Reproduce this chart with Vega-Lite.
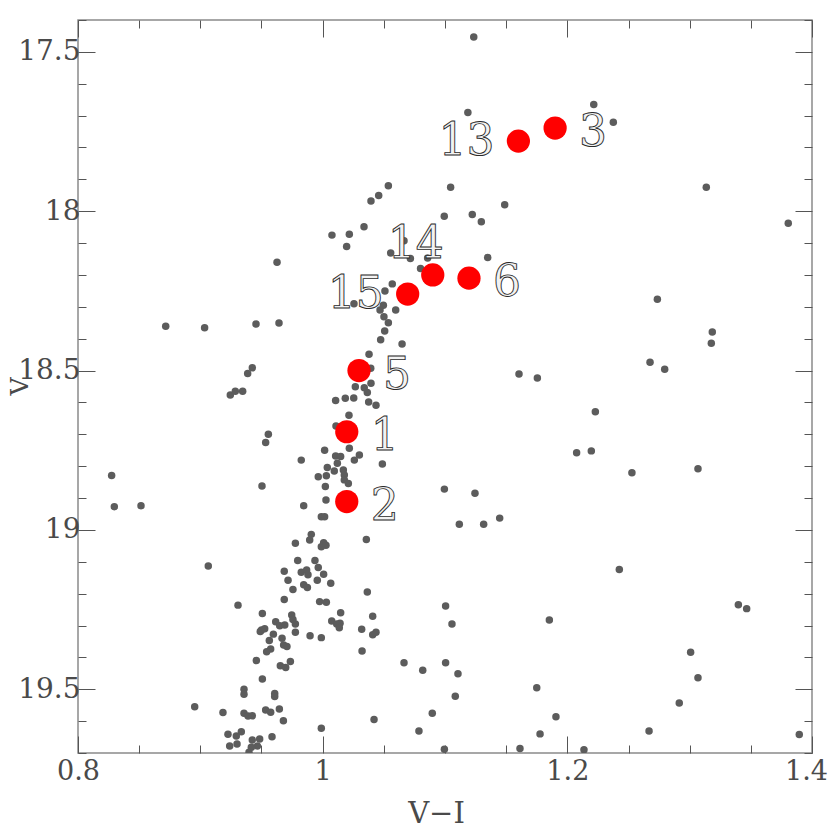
{
  "$schema": "https://vega.github.io/schema/vega-lite/v6.json",
  "width": 734,
  "height": 733,
  "autosize": {"type": "none"},
  "padding": {"left": 78, "top": 20, "right": 18, "bottom": 77},
  "background": "white",
  "config": {"view": {"stroke": "#8a8a8a", "strokeWidth": 1.5}},
  "datasets": {
    "stars": [
      {"color": 1.1235, "mag": 17.453}, {"color": 1.1187, "mag": 17.69}, {"color": 1.0537, "mag": 17.92}, {"color": 1.0458, "mag": 17.951},
      {"color": 1.0395, "mag": 17.968}, {"color": 1.1046, "mag": 17.925}, {"color": 1.1488, "mag": 17.98}, {"color": 1.0994, "mag": 18.016},
      {"color": 1.1223, "mag": 18.01}, {"color": 1.1297, "mag": 18.033}, {"color": 1.0338, "mag": 18.049}, {"color": 1.0076, "mag": 18.075},
      {"color": 1.0218, "mag": 18.072}, {"color": 1.0196, "mag": 18.111}, {"color": 1.0665, "mag": 18.093}, {"color": 1.0556, "mag": 18.131},
      {"color": 1.0717, "mag": 18.148}, {"color": 1.0858, "mag": 18.147}, {"color": 1.1349, "mag": 18.145}, {"color": 1.08, "mag": 18.18},
      {"color": 1.2216, "mag": 17.665}, {"color": 1.2376, "mag": 17.721}, {"color": 1.3136, "mag": 17.925}, {"color": 1.3806, "mag": 18.038},
      {"color": 0.9627, "mag": 18.16}, {"color": 0.8717, "mag": 18.361}, {"color": 0.9035, "mag": 18.366}, {"color": 0.9455, "mag": 18.354},
      {"color": 0.9643, "mag": 18.351}, {"color": 0.9425, "mag": 18.491}, {"color": 0.9387, "mag": 18.509}, {"color": 0.9245, "mag": 18.577},
      {"color": 0.9286, "mag": 18.565}, {"color": 0.9346, "mag": 18.565}, {"color": 0.9556, "mag": 18.7}, {"color": 0.9534, "mag": 18.726},
      {"color": 0.9825, "mag": 18.781}, {"color": 1.0016, "mag": 18.75}, {"color": 0.8275, "mag": 18.829}, {"color": 0.9504, "mag": 18.862},
      {"color": 0.9964, "mag": 18.833}, {"color": 1.0038, "mag": 18.804}, {"color": 1.003, "mag": 18.83}, {"color": 1.0022, "mag": 18.864},
      {"color": 1.0027, "mag": 18.906}, {"color": 0.8297, "mag": 18.927}, {"color": 0.8515, "mag": 18.924}, {"color": 0.9845, "mag": 18.924},
      {"color": 1.0569, "mag": 18.228}, {"color": 1.0509, "mag": 18.25}, {"color": 1.0256, "mag": 18.29}, {"color": 1.0496, "mag": 18.295},
      {"color": 1.0469, "mag": 18.31}, {"color": 1.0597, "mag": 18.31}, {"color": 1.0501, "mag": 18.331}, {"color": 1.0537, "mag": 18.35},
      {"color": 1.0507, "mag": 18.376}, {"color": 1.0474, "mag": 18.403}, {"color": 1.0649, "mag": 18.417}, {"color": 1.0379, "mag": 18.449},
      {"color": 1.0393, "mag": 18.493}, {"color": 1.0395, "mag": 18.54}, {"color": 1.0267, "mag": 18.551}, {"color": 1.034, "mag": 18.554},
      {"color": 1.0365, "mag": 18.569}, {"color": 1.0106, "mag": 18.594}, {"color": 1.0185, "mag": 18.587}, {"color": 1.0254, "mag": 18.586},
      {"color": 1.0376, "mag": 18.599}, {"color": 1.0436, "mag": 18.609}, {"color": 1.0215, "mag": 18.64}, {"color": 1.0109, "mag": 18.674},
      {"color": 1.0218, "mag": 18.744}, {"color": 1.03, "mag": 18.765}, {"color": 1.0106, "mag": 18.768}, {"color": 1.0147, "mag": 18.77},
      {"color": 1.0259, "mag": 18.781}, {"color": 1.012, "mag": 18.791}, {"color": 1.0488, "mag": 18.793}, {"color": 1.0095, "mag": 18.815},
      {"color": 1.0169, "mag": 18.812}, {"color": 1.0177, "mag": 18.828}, {"color": 1.0177, "mag": 18.843}, {"color": 1.021, "mag": 18.854},
      {"color": 1.0995, "mag": 18.872}, {"color": 1.1245, "mag": 18.885}, {"color": 1.1605, "mag": 18.511}, {"color": 1.1755, "mag": 18.523},
      {"color": 1.2736, "mag": 18.276}, {"color": 1.3185, "mag": 18.379}, {"color": 1.3177, "mag": 18.414}, {"color": 1.2676, "mag": 18.474},
      {"color": 1.2796, "mag": 18.496}, {"color": 1.2229, "mag": 18.629}, {"color": 1.2076, "mag": 18.758}, {"color": 1.2196, "mag": 18.752},
      {"color": 1.2528, "mag": 18.821}, {"color": 1.3068, "mag": 18.808},
      {"color": 0.9989, "mag": 18.959}, {"color": 1.0016, "mag": 18.959}, {"color": 0.9907, "mag": 19.014}, {"color": 0.9894, "mag": 19.032},
      {"color": 1.0008, "mag": 19.04}, {"color": 0.9989, "mag": 19.053}, {"color": 1.0027, "mag": 19.048}, {"color": 0.9777, "mag": 19.042},
      {"color": 1.0357, "mag": 19.03}, {"color": 0.9796, "mag": 19.096}, {"color": 0.9937, "mag": 19.096}, {"color": 0.9964, "mag": 19.118},
      {"color": 1.0008, "mag": 19.139}, {"color": 0.9825, "mag": 19.133}, {"color": 0.9869, "mag": 19.126}, {"color": 0.988, "mag": 19.141},
      {"color": 0.9686, "mag": 19.13}, {"color": 0.9717, "mag": 19.158}, {"color": 0.9845, "mag": 19.172}, {"color": 0.9875, "mag": 19.181},
      {"color": 0.9956, "mag": 19.158}, {"color": 0.9757, "mag": 19.187}, {"color": 1.0066, "mag": 19.167}, {"color": 1.0365, "mag": 19.195},
      {"color": 0.9686, "mag": 19.218}, {"color": 0.9975, "mag": 19.225}, {"color": 1.003, "mag": 19.227}, {"color": 0.9308, "mag": 19.236},
      {"color": 0.9065, "mag": 19.113}, {"color": 0.9507, "mag": 19.262}, {"color": 0.9616, "mag": 19.288}, {"color": 0.9747, "mag": 19.267},
      {"color": 0.9757, "mag": 19.281}, {"color": 0.9777, "mag": 19.295}, {"color": 0.9649, "mag": 19.301}, {"color": 0.969, "mag": 19.298},
      {"color": 0.95, "mag": 19.314}, {"color": 0.949, "mag": 19.319}, {"color": 0.9526, "mag": 19.31}, {"color": 0.9597, "mag": 19.327},
      {"color": 0.9668, "mag": 19.34}, {"color": 0.9564, "mag": 19.347}, {"color": 0.9777, "mag": 19.321}, {"color": 0.9897, "mag": 19.332},
      {"color": 0.9989, "mag": 19.338}, {"color": 1.0147, "mag": 19.26}, {"color": 1.0409, "mag": 19.271}, {"color": 1.0074, "mag": 19.286},
      {"color": 1.0142, "mag": 19.293}, {"color": 1.0115, "mag": 19.295}, {"color": 1.0136, "mag": 19.307}, {"color": 1.0319, "mag": 19.312},
      {"color": 1.0409, "mag": 19.329}, {"color": 1.0436, "mag": 19.321}, {"color": 1.1005, "mag": 19.239}, {"color": 1.1057, "mag": 19.295},
      {"color": 0.9681, "mag": 19.361}, {"color": 0.9708, "mag": 19.366}, {"color": 0.9575, "mag": 19.374}, {"color": 0.9542, "mag": 19.382},
      {"color": 0.9458, "mag": 19.41}, {"color": 0.9654, "mag": 19.426}, {"color": 0.9698, "mag": 19.432}, {"color": 0.9736, "mag": 19.413},
      {"color": 1.0322, "mag": 19.38}, {"color": 0.9507, "mag": 19.468}, {"color": 0.8954, "mag": 19.555}, {"color": 0.9185, "mag": 19.573},
      {"color": 0.9357, "mag": 19.5}, {"color": 0.9357, "mag": 19.516}, {"color": 0.9608, "mag": 19.513}, {"color": 0.9608, "mag": 19.523},
      {"color": 0.9357, "mag": 19.575}, {"color": 0.939, "mag": 19.584}, {"color": 0.9425, "mag": 19.583}, {"color": 0.9534, "mag": 19.565},
      {"color": 0.9575, "mag": 19.572}, {"color": 0.9646, "mag": 19.562}, {"color": 0.9679, "mag": 19.599}, {"color": 0.9226, "mag": 19.641},
      {"color": 0.9294, "mag": 19.647}, {"color": 0.9335, "mag": 19.633}, {"color": 0.924, "mag": 19.678}, {"color": 0.93, "mag": 19.672},
      {"color": 0.9425, "mag": 19.659}, {"color": 0.9485, "mag": 19.656}, {"color": 0.9466, "mag": 19.678}, {"color": 0.9417, "mag": 19.682},
      {"color": 0.9398, "mag": 19.698}, {"color": 0.9586, "mag": 19.649}, {"color": 0.9989, "mag": 19.622}, {"color": 1.042, "mag": 19.595},
      {"color": 1.0896, "mag": 19.575}, {"color": 1.0787, "mag": 19.631}, {"color": 1.0665, "mag": 19.417}, {"color": 1.0818, "mag": 19.44},
      {"color": 1.1005, "mag": 19.417}, {"color": 1.1106, "mag": 19.451}, {"color": 1.1084, "mag": 19.522}, {"color": 1.175, "mag": 19.495},
      {"color": 1.1777, "mag": 19.64}, {"color": 1.1613, "mag": 19.686}, {"color": 1.0995, "mag": 19.688}, {"color": 1.1117, "mag": 18.982},
      {"color": 1.1316, "mag": 18.982}, {"color": 1.1447, "mag": 18.963}, {"color": 1.1853, "mag": 19.283},
      {"color": 1.2425, "mag": 19.124}, {"color": 1.3398, "mag": 19.235}, {"color": 1.3466, "mag": 19.247}, {"color": 1.3008, "mag": 19.384},
      {"color": 1.3068, "mag": 19.464}, {"color": 1.2915, "mag": 19.543}, {"color": 1.1907, "mag": 19.586}, {"color": 1.2668, "mag": 19.631},
      {"color": 1.2136, "mag": 19.69}, {"color": 1.3896, "mag": 19.642}
    ],
    "targets": [
      {"id": "13", "color": 1.16, "mag": 17.78},
      {"id": "3", "color": 1.19, "mag": 17.739},
      {"id": "14", "color": 1.09, "mag": 18.2},
      {"id": "6", "color": 1.1196, "mag": 18.21},
      {"id": "15", "color": 1.0695, "mag": 18.26},
      {"id": "5", "color": 1.0297, "mag": 18.5},
      {"id": "1", "color": 1.0197, "mag": 18.692},
      {"id": "2", "color": 1.0197, "mag": 18.911}
    ]
  },
  "resolve": {"axis": {"x": "independent", "y": "independent"}},
  "layer": [
    {
      "data": {"name": "stars"},
      "mark": {"type": "circle", "color": "#5c5c5c", "opacity": 1, "size": 56, "clip": true},
      "encoding": {
        "x": {
          "field": "color", "type": "quantitative",
          "scale": {"domain": [0.8, 1.4], "nice": false, "zero": false},
          "axis": {
            "orient": "bottom",
            "values": [0.8, 0.85, 0.9, 0.95, 1.0, 1.05, 1.1, 1.15, 1.2, 1.25, 1.3, 1.35, 1.4],
            "format": "~g",
            "labelExpr": "abs(datum.value*5-round(datum.value*5))<1e-6 ? datum.label : ''",
            "tickSize": {"condition": {"test": "abs(datum.value*5-round(datum.value*5))<1e-6", "value": -17}, "value": -8},
            "tickColor": "#555", "tickWidth": 1,
            "domain": false, "grid": false,
            "labelFont": "DejaVu Serif", "labelFontSize": 27, "labelColor": "#4a4a4a",
            "labelOffset": {"condition": {"test": "datum.value > 1.39", "value": -6}, "value": 0},
            "labelPadding": 22, "labelFlush": false, "labelOverlap": false,
            "title": "V−I", "titleFont": "DejaVu Serif", "titleFontSize": 29, "titleFontWeight": "normal", "titleColor": "#4a4a4a",
            "titleX": 358, "titleY": 60, "titleBaseline": "middle", "titleAlign": "center"
          }
        },
        "y": {
          "field": "mag", "type": "quantitative",
          "scale": {"domain": [17.4, 19.7], "nice": false, "zero": false, "reverse": true},
          "axis": {
            "orient": "left",
            "values": [17.4, 17.5, 17.6, 17.7, 17.8, 17.9, 18.0, 18.1, 18.2, 18.3, 18.4, 18.5, 18.6, 18.7, 18.8, 18.9, 19.0, 19.1, 19.2, 19.3, 19.4, 19.5, 19.6, 19.7],
            "format": "~g",
            "labelExpr": "abs(datum.value*2-round(datum.value*2))<1e-6 ? datum.label : ''",
            "tickSize": {"condition": {"test": "abs(datum.value*2-round(datum.value*2))<1e-6", "value": -17}, "value": -8},
            "tickColor": "#555", "tickWidth": 1,
            "domain": false, "grid": false,
            "labelFont": "DejaVu Serif", "labelFontSize": 28, "labelColor": "#4a4a4a",
            "labelPadding": 15, "labelFlush": false, "labelOverlap": false,
            "title": "V", "titleFont": "DejaVu Serif", "titleFontSize": 25, "titleFontWeight": "normal", "titleColor": "#4a4a4a",
            "titleX": -59, "titleY": 366, "titleBaseline": "middle", "titleAlign": "center", "titleAngle": -90
          }
        }
      }
    },
    {
      "data": {"name": "targets"},
      "mark": {"type": "circle", "color": "#ff0000", "opacity": 1, "size": 540},
      "encoding": {
        "x": {
          "field": "color", "type": "quantitative",
          "axis": {
            "orient": "top",
            "values": [0.8, 0.85, 0.9, 0.95, 1.0, 1.05, 1.1, 1.15, 1.2, 1.25, 1.3, 1.35, 1.4],
            "labels": false,
            "tickSize": {"condition": {"test": "abs(datum.value*5-round(datum.value*5))<1e-6", "value": -17}, "value": -8},
            "tickColor": "#555", "tickWidth": 1,
            "domain": false, "grid": false, "title": null
          }
        },
        "y": {
          "field": "mag", "type": "quantitative",
          "axis": {
            "orient": "right",
            "values": [17.4, 17.5, 17.6, 17.7, 17.8, 17.9, 18.0, 18.1, 18.2, 18.3, 18.4, 18.5, 18.6, 18.7, 18.8, 18.9, 19.0, 19.1, 19.2, 19.3, 19.4, 19.5, 19.6, 19.7],
            "labels": false,
            "tickSize": {"condition": {"test": "abs(datum.value*2-round(datum.value*2))<1e-6", "value": -17}, "value": -8},
            "tickColor": "#555", "tickWidth": 1,
            "domain": false, "grid": false, "title": null
          }
        }
      }
    },
    {
      "data": {"name": "targets"},
      "transform": [{"filter": "datum.id == '3' || datum.id == '6' || datum.id == '5' || datum.id == '1' || datum.id == '2'"}],
      "mark": {"type": "text", "align": "left", "baseline": "middle", "dx": 24, "dy": 5, "font": "DejaVu Serif", "fontSize": 44, "fill": "#f2f2f2", "stroke": "#2a2a2a", "strokeWidth": 0.9},
      "encoding": {
        "x": {"field": "color", "type": "quantitative", "axis": null},
        "y": {"field": "mag", "type": "quantitative", "axis": null},
        "text": {"field": "id"}
      }
    },
    {
      "data": {"name": "targets"},
      "transform": [{"filter": "datum.id == '13' || datum.id == '15'"}],
      "mark": {"type": "text", "align": "right", "baseline": "middle", "dx": -24, "dy": 1, "font": "DejaVu Serif", "fontSize": 44, "fill": "#f2f2f2", "stroke": "#2a2a2a", "strokeWidth": 0.9},
      "encoding": {
        "x": {"field": "color", "type": "quantitative", "axis": null},
        "y": {"field": "mag", "type": "quantitative", "axis": null},
        "text": {"field": "id"}
      }
    },
    {
      "data": {"name": "targets"},
      "transform": [{"filter": "datum.id == '14'"}],
      "mark": {"type": "text", "align": "center", "baseline": "middle", "dx": -17, "dy": -30, "font": "DejaVu Serif", "fontSize": 44, "fill": "#f2f2f2", "stroke": "#2a2a2a", "strokeWidth": 0.9},
      "encoding": {
        "x": {"field": "color", "type": "quantitative", "axis": null},
        "y": {"field": "mag", "type": "quantitative", "axis": null},
        "text": {"field": "id"}
      }
    }
  ]
}
